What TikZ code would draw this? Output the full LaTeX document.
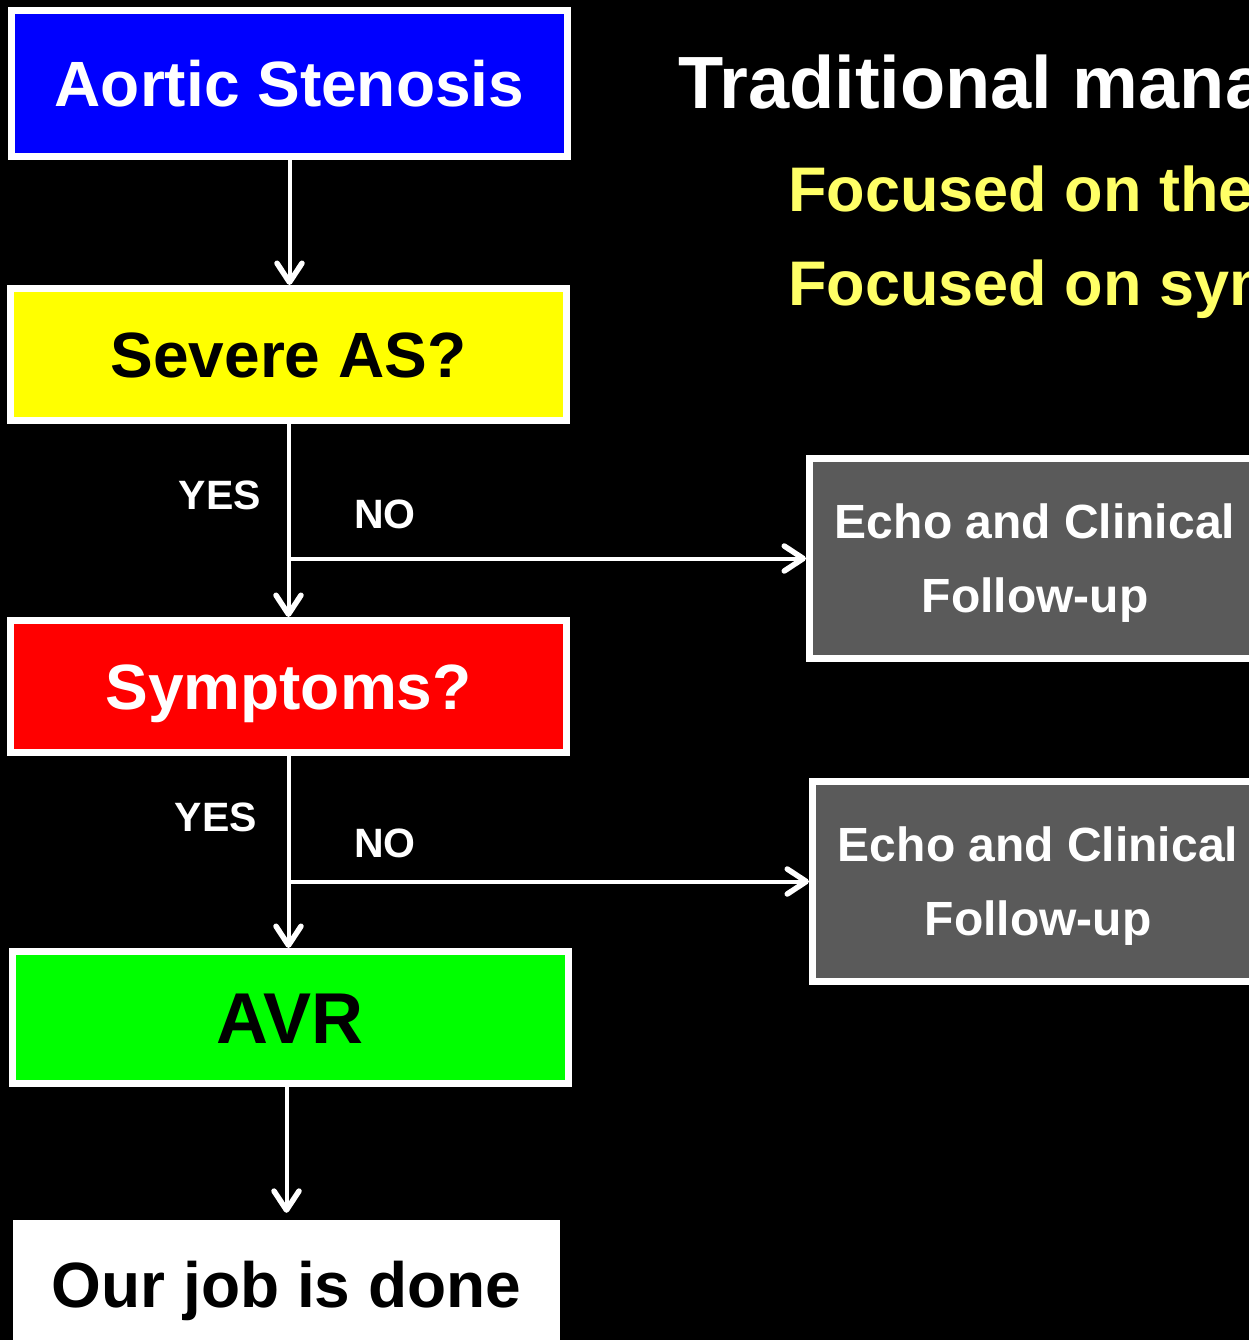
\documentclass[tikz,border=0pt]{standalone}
\usepackage{fontspec}
\setmainfont{Liberation Sans}
\usetikzlibrary{positioning,arrows.meta}

\definecolor{asblue}{HTML}{0000FF}
\definecolor{asyellow}{HTML}{FFFF00}
\definecolor{asred}{HTML}{FF0000}
\definecolor{asgreen}{HTML}{00FF00}
\definecolor{asgray}{HTML}{5A5A5A}
\definecolor{paleyellow}{HTML}{FFFF66}

\tikzset{
  box/.style={rectangle,draw=white,line width=7pt,minimum width=556pt,minimum height=132pt,
    text height=46pt,text depth=0pt,font=\bfseries\fontsize{64}{76}\selectfont},
  followbox/.style={rectangle,draw=white,line width=7pt,fill=asgray,text=white,align=center,
    minimum width=451pt,minimum height=200pt,font=\bfseries\fontsize{48}{74}\selectfont},
  answer/.style={text=white,inner sep=0pt,font=\bfseries\fontsize{41}{49}\selectfont},
  flow/.style={white,line width=4pt,-{Straight Barb[length=19pt,width=25pt,line width=5.5pt,round]}},
}

\begin{document}
\begin{tikzpicture}[x=1pt,y=-1pt]
\useasboundingbox (0,0) rectangle (1249,1340);
\clip (0,0) rectangle (1249,1340);
\fill [black] (0,0) rectangle (1249,1340);

% left column
\node [box,fill=asblue,text=white,minimum height=146pt] (aortic) at (289.5,83.5) {Aortic Stenosis};
\node [box,fill=asyellow,text=black] (severe) at (288.5,354.5) {Severe AS?};
\node [box,fill=asred,text=white] (symptoms) at (288.5,686.5) {Symptoms?};
\node [box,fill=asgreen,text=black,text height=51.5pt,font=\bfseries\fontsize{72}{86}\selectfont] (avr) at (290,1017.5) {AVR};
\node [rectangle,fill=white,text=black,minimum width=547pt,minimum height=128pt,
  text height=46pt,text depth=0pt,font=\bfseries\fontsize{64}{76}\selectfont] (done) at (286.5,1284) {Our job is done};

% right column
\node [followbox] (echo1) at (1035,558.5) {\rule{0pt}{43pt}Echo and Clinical\\Follow-up};
\node [followbox] (echo2) at (1038,881.5) {\rule{0pt}{43pt}Echo and Clinical\\Follow-up};

\node [anchor=base west,text=white,inner sep=0pt,font=\bfseries\fontsize{74}{88}\selectfont] (title) at (678,109) {Traditional mana};
\node [anchor=base west,text=paleyellow,inner sep=0pt,font=\bfseries\fontsize{63}{76}\selectfont] (focus1) at (788,212) {Focused on the};
\node [anchor=base west,text=paleyellow,inner sep=0pt,font=\bfseries\fontsize{63}{76}\selectfont] (focus2) at (788,305) {Focused on sym};

% answers
\node [answer] (yes1) at (220,495) {YES};
\node [answer] (no1) at (385,514.5) {NO};
\node [answer] (yes2) at (216,817) {YES};
\node [answer] (no2) at (385,843) {NO};

% connectors
\coordinate (fork1) at (severe.south |- echo1.west);
\coordinate (fork2) at (symptoms.south |- echo2.west);
\draw [flow] (aortic.south) -- (aortic.south |- severe.north);
\draw [flow] (severe) -- (symptoms);
\draw [flow] (fork1) -- (echo1);
\draw [flow] (symptoms) -- (symptoms.south |- avr.north);
\draw [flow] (fork2) -- (echo2);
\draw [flow,shorten >=7pt] (done.north |- avr.south) -- (done.north);
\end{tikzpicture}
\end{document}
